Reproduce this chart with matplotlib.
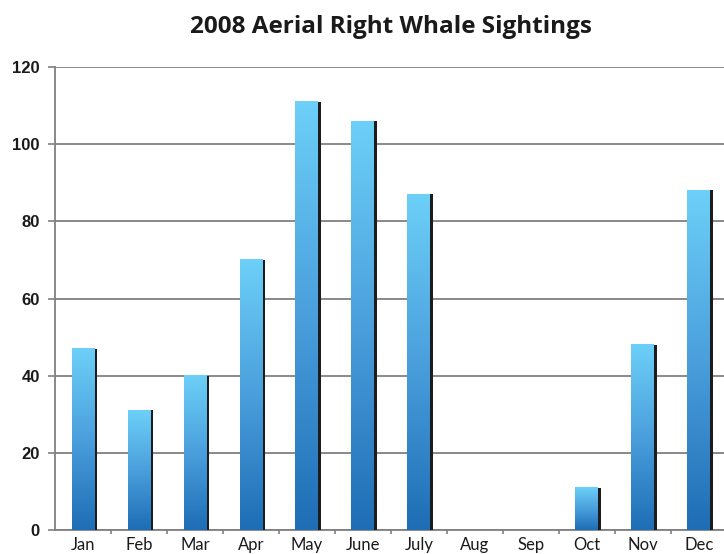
import numpy as np
import matplotlib; matplotlib.use("Agg")
import matplotlib.pyplot as plt
from matplotlib.colors import LinearSegmentedColormap

months = ["Jan", "Feb", "Mar", "Apr", "May", "June", "July", "Aug", "Sep", "Oct", "Nov", "Dec"]
sightings = [47, 31, 40, 70, 111, 106, 87, 0, 0, 11, 48, 88]
yticks = [0, 20, 40, 60, 80, 100, 120]

cmap = LinearSegmentedColormap.from_list("bluegrad", ["#1e6db5", "#4a9fdc", "#6dd0f8"])
grad = np.linspace(0, 1, 256).reshape(-1, 1)

fig = plt.figure(figsize=(7.24, 5.54), dpi=100)
ax = fig.add_axes([0.076, 0.0433, 0.928, 0.8357])

x = np.arange(len(months))
bw, sh = 0.41, 0.05
ax.bar(x - bw / 2, sightings, width=bw + sh, align="edge", color="#1c1c1c", zorder=3)
for xi, v in zip(x, sightings):
    if v > 0:
        ax.imshow(grad, extent=[xi - bw / 2, xi + bw / 2, 0, v], origin="lower",
                  cmap=cmap, aspect="auto", zorder=4, interpolation="bilinear")

ax.set_xlim(-0.5, 11.5)
ax.set_ylim(0, 120)
ax.set_yticks(yticks)
ax.set_yticklabels([str(t) for t in yticks], fontsize=12, fontweight="bold",
                   family="Liberation Sans", color="#1a1a1a")
ax.set_xticks(x)
ax.set_xticklabels(months, fontsize=12, family="Lato", color="#1a1a1a")
ax.set_xticks(np.arange(0.5, 11, 1), minor=True)
ax.tick_params(axis="x", which="major", length=0, pad=5)
ax.tick_params(axis="x", which="minor", length=3, color="#808080", width=1.2)
ax.tick_params(axis="y", length=5, color="#808080", width=1.2, pad=6)
ax.yaxis.grid(True, color="#808080", lw=1.3, zorder=1)
ax.set_axisbelow(True)
for s in ["top", "right"]:
    ax.spines[s].set_visible(False)
for s in ["left", "bottom"]:
    ax.spines[s].set_color("#808080"); ax.spines[s].set_linewidth(1.3)

fig.text(0.54, 0.952, "2008 Aerial Right Whale Sightings", ha="center", va="center",
         fontsize=17.5, fontweight="bold", family="Open Sans", color="#1a1a1a")

plt.savefig("out.png", dpi=100)
